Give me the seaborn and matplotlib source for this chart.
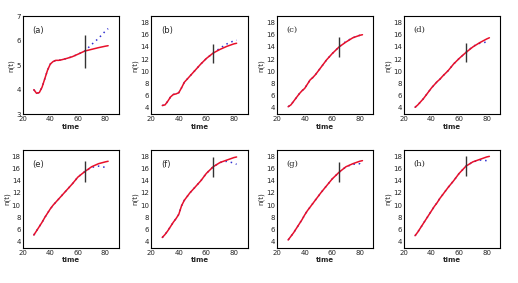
import numpy as np
import pandas as pd
import matplotlib
matplotlib.use("Agg")
import matplotlib.pyplot as plt
import seaborn as sns

# time grid of the fitted curves
time = [28, 30, 32, 34, 36, 38, 40, 42, 44, 46, 48, 52, 56, 60, 65, 70, 75, 80, 82]
# observed tail after the cut at t=65
tail_time = [65, 70, 75, 80, 82]
cut_time = 65

labels = ["(a)", "(b)", "(c)", "(d)", "(e)", "(f)", "(g)", "(h)"]
serif_labels = ["(c)", "(d)", "(g)", "(h)"]

fit_a = [4.0, 3.85, 3.88, 4.1, 4.45, 4.8, 5.05, 5.15, 5.2, 5.2, 5.22, 5.28, 5.35, 5.45, 5.58, 5.65, 5.72, 5.78, 5.8]
fit_b = [4.4, 4.5, 5.1, 5.8, 6.2, 6.3, 6.5, 7.3, 8.2, 8.7, 9.2, 10.2, 11.2, 12.1, 13.0, 13.6, 14.1, 14.5, 14.6]
fit_c = [4.2, 4.5, 5.1, 5.7, 6.3, 6.8, 7.2, 7.9, 8.6, 9.0, 9.5, 10.7, 11.9, 12.9, 14.0, 14.8, 15.5, 15.9, 16.0]
fit_d = [4.1, 4.5, 5.0, 5.5, 6.1, 6.7, 7.3, 7.8, 8.3, 8.7, 9.2, 10.1, 11.2, 12.1, 13.1, 14.0, 14.7, 15.3, 15.5]
fit_e = [5.1, 5.8, 6.5, 7.2, 8.0, 8.7, 9.4, 10.0, 10.5, 11.0, 11.5, 12.5, 13.5, 14.6, 15.5, 16.3, 16.8, 17.1, 17.2]
fit_f = [4.7, 5.2, 5.8, 6.5, 7.2, 7.8, 8.5, 9.9, 10.8, 11.4, 12.0, 13.0, 14.0, 15.2, 16.3, 17.0, 17.4, 17.8, 17.9]
fit_g = [4.3, 4.9, 5.5, 6.2, 6.9, 7.6, 8.4, 9.1, 9.7, 10.3, 10.9, 12.1, 13.2, 14.3, 15.4, 16.3, 16.8, 17.2, 17.3]
fit_h = [5.0, 5.6, 6.3, 7.0, 7.7, 8.4, 9.1, 9.8, 10.4, 11.1, 11.7, 12.9, 14.0, 15.2, 16.4, 17.1, 17.5, 17.9, 18.0]

obs_a = [5.58, 5.85, 6.1, 6.4, 6.5]
obs_b = [13.0, 13.8, 14.5, 15.0, 15.1]
obs_c = [14.0, 14.9, 15.5, 15.9, 16.0]
obs_d = [13.1, 14.1, 14.6, 14.8, 14.8]
obs_e = [15.5, 16.2, 16.4, 16.2, 16.1]
obs_f = [16.3, 17.0, 17.2, 16.9, 16.7]
obs_g = [15.4, 16.3, 16.7, 16.8, 16.5]
obs_h = [16.4, 17.1, 17.4, 17.3, 17.0]

bar_lo = [4.9, 11.4, 12.4, 11.6, 13.8, 14.6, 13.8, 14.8]
bar_hi = [6.25, 14.5, 15.6, 14.6, 17.2, 17.9, 17.0, 18.1]

fits = [fit_a, fit_b, fit_c, fit_d, fit_e, fit_f, fit_g, fit_h]
obs = [obs_a, obs_b, obs_c, obs_d, obs_e, obs_f, obs_g, obs_h]

sns.set_style("white")
plt.rcParams["font.family"] = ["DejaVu Sans"]

fig = plt.figure(figsize=(5.18, 2.83), dpi=100)
lefts = [0.044, 0.292, 0.535, 0.780]
bottoms = [0.597, 0.124]
w, h = 0.186, 0.345

for i in range(8):
    row, col = divmod(i, 4)
    ax = fig.add_axes([lefts[col], bottoms[row], w, h])
    fit = fits[i]
    # observed series: fitted part up to the cut, then the observed tail
    n_pre = time.index(cut_time)
    df_obs = pd.DataFrame({"time": time[:n_pre] + tail_time, "n": fit[:n_pre] + obs[i]})
    df_fit = pd.DataFrame({"time": time, "n": fit})
    sns.lineplot(data=df_obs, x="time", y="n", ax=ax, color="#3030d0",
                 linestyle=(0, (1, 2.5)), linewidth=1.1)
    sns.lineplot(data=df_fit, x="time", y="n", ax=ax, color="#e8102a", linewidth=1.1)
    ax.vlines(cut_time, bar_lo[i], bar_hi[i], color="#333333", linewidth=1.0)

    ax.set_xlim(20, 90)
    ax.set_xticks([20, 40, 60, 80])
    if i == 0:
        ax.set_ylim(3, 7)
        ax.set_yticks([3, 4, 5, 6, 7])
    else:
        ax.set_ylim(3, 19)
        ax.set_yticks([4, 6, 8, 10, 12, 14, 16, 18])
    ax.tick_params(labelsize=5, direction="in", length=2, width=0.5, pad=1.5)
    for s in ax.spines.values():
        s.set_linewidth(0.8)
        s.set_color("black")
    ax.set_xlabel("time", fontsize=5, labelpad=1, fontweight="bold")
    ax.set_ylabel("n(t)", fontsize=5, labelpad=1)
    fam = "DejaVu Serif" if labels[i] in serif_labels else "DejaVu Sans"
    ax.text(0.1, 0.9, labels[i], transform=ax.transAxes, fontsize=6,
            family=fam, va="top", ha="left")

fig.savefig("out.png", dpi=100)
